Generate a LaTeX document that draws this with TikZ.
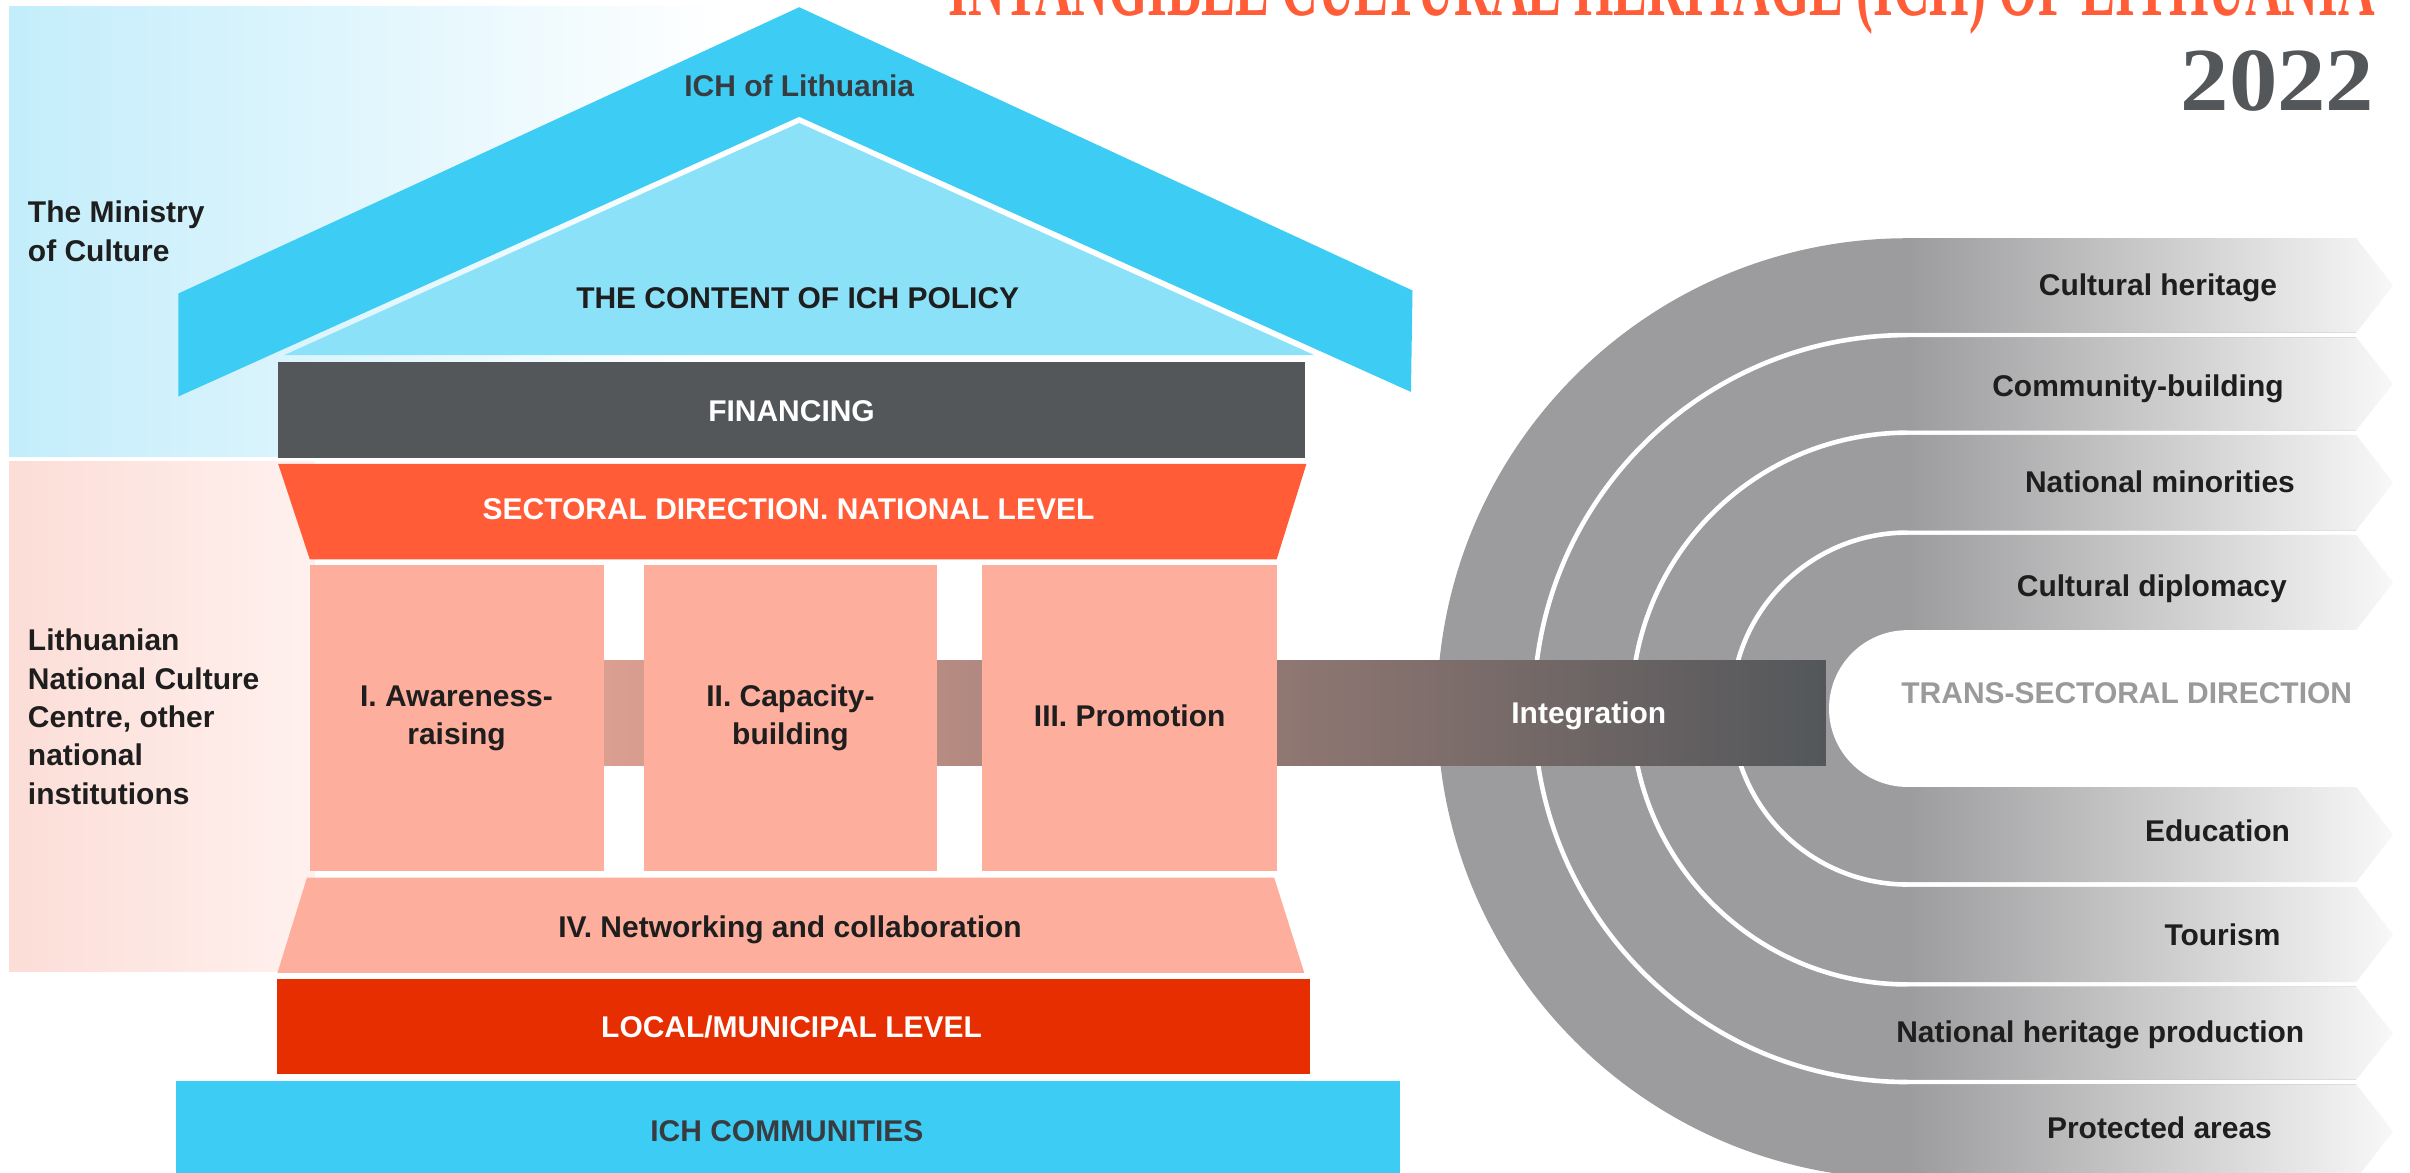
\documentclass[tikz,border=0pt]{standalone}
\usepackage{fontspec}
\setmainfont{Liberation Sans}
\newfontfamily\titlefont{Liberation Serif}
\usetikzlibrary{positioning}
\definecolor{roofblue}{HTML}{3DCDF4}
\definecolor{policyblue}{HTML}{8AE1F8}
\definecolor{panelblue}{HTML}{C3EDFB}
\definecolor{panelpink}{HTML}{FCDDD7}
\definecolor{pinkfade}{HTML}{FFF1EE}
\definecolor{slate}{HTML}{53575A}
\definecolor{sectoral}{HTML}{FF5C37}
\definecolor{salmon}{HTML}{FDAE9C}
\definecolor{barsalmon}{HTML}{DB9F91}
\definecolor{localred}{HTML}{E62E00}
\definecolor{ringgray}{HTML}{9C9C9E}
\definecolor{armlight}{HTML}{F8F8F8}
\definecolor{ink}{HTML}{1E1E1E}
\definecolor{inkgray}{HTML}{383C40}
\definecolor{transgray}{HTML}{9A9A9A}

\begin{document}
\begin{tikzpicture}
        [x=1pt, y=1pt,
         lbl/.style={inner sep=0, font=\fontsize{19.5}{25}\selectfont\bfseries, text=ink, align=center},
         wlbl/.style={lbl, text=white},
         arm/.style={left color=ringgray, right color=armlight},
         gap/.style={draw=white, line width=3pt}]
        \useasboundingbox (0,0) rectangle (1568,763);

        % side panels
        \shade[left color=panelblue, right color=white] (6,466) rectangle (470,758.5);
        \shade[left color=panelpink, right color=pinkfade] (6,131) rectangle (205,463);

        % roof and policy triangle
        \fill[roofblue] (520,758.3) -- (919,574) -- (918,508) -- (520,687) -- (116,505) -- (116,572) -- cycle;
        \fill[policyblue] (520,683) -- (855,532) -- (185,532) -- cycle;

        % house body
        \fill[slate] (181,465) rectangle (849,527.5);
        \fill[sectoral] (181,461.2) -- (850,461.2) -- (830.6,399) -- (201.6,399) -- cycle;

        % rings of the trans-sectoral direction
        \fill[ringgray] (1533,608) -- (1241,608) arc[start angle=90, end angle=270, radius=306] -- (1533,-4) -- cycle;
        \foreach \r in {114.5, 179.5, 243}
          \draw[gap] (1560,302+\r) -- (1241,302+\r) arc[start angle=90, end angle=270, radius=\r] -- (1560,302-\r);
        \foreach \ri/\ro in {51/113, 116/178, 181/241.5, 244.5/306}{
          \shade[arm] (1241,302+\ri) -- (1533,302+\ri) -- (1557,{302+(\ri+\ro)/2}) -- (1533,302+\ro) -- (1241,302+\ro) -- cycle;
          \shade[arm] (1241,302-\ro) -- (1533,302-\ro) -- (1557,{302-(\ri+\ro)/2}) -- (1533,302-\ri) -- (1241,302-\ri) -- cycle;
        }
        \fill[white] (1560,353) -- (1241,353) arc[start angle=90, end angle=270, radius=51] -- (1560,251) -- cycle;

        % integration bar and pillars
        \shade[left color=barsalmon, right color=slate] (393,265) rectangle (1188,333);
        \fill[salmon] (201.5,196) rectangle (393,395.4);
        \fill[salmon] (419,196) rectangle (609.6,395.4);
        \fill[salmon] (639,196) rectangle (830.6,395.4);
        \fill[salmon] (199.7,192) -- (829,192) -- (848.6,130) -- (180.5,130) -- cycle;
        \fill[localred] (180.5,64) rectangle (852,126.2);
        \fill[roofblue] (114.4,0) rectangle (911,60);

        % labels of the house
        \node [lbl, text=inkgray, anchor=base] (lith)   at (520,700)     {ICH of Lithuania};
        \node [lbl, anchor=base]               (policy) at (519,562.5)   {THE CONTENT OF ICH POLICY};
        \node [wlbl, anchor=base]              (fin)    at (515,489)     {FINANCING};
        \node [wlbl, anchor=base]              (sect)   at (513,424.7)   {SECTORAL DIRECTION. NATIONAL LEVEL};
        \node [lbl, anchor=base]               (aware)  at (297,278.5)   {I. Awareness-\\raising};
        \node [lbl, anchor=base]               (capac)  at (514.3,278.5) {II. Capacity-\\building};
        \node [lbl, anchor=base]               (promo)  at (735,290.3)   {III. Promotion};
        \node [wlbl, anchor=base]              (integ)  at (1033.7,292.5){Integration};
        \node [lbl, anchor=base]               (netw)   at (514,153)     {IV. Networking and collaboration};
        \node [wlbl, anchor=base]              (local)  at (515,88)      {LOCAL/MUNICIPAL LEVEL};
        \node [lbl, text=inkgray, anchor=base] (comm)   at (512,20.3)    {ICH COMMUNITIES};
        \node [lbl, anchor=base west, align=left] (ministry) at (18,593) {The Ministry\\of Culture};
        \node [lbl, anchor=base west, align=left] (lncc)     at (18,239.7) {Lithuanian\\National Culture\\Centre, other\\national\\institutions};

        % labels of the rings
        \node [lbl, anchor=base] (heritage) at (1404,571)     {Cultural heritage};
        \node [lbl, anchor=base] (commb)    at (1391,505)     {Community-building};
        \node [lbl, anchor=base] (minor)    at (1405.3,442.6) {National minorities};
        \node [lbl, anchor=base] (diplo)    at (1400,374.8)   {Cultural diplomacy};
        \node [lbl, text=transgray, anchor=base] (trans) at (1383.7,305.2) {TRANS-SECTORAL DIRECTION};
        \node [lbl, anchor=base] (educ)     at (1442.8,215.8) {Education};
        \node [lbl, anchor=base] (tour)     at (1446,147.8)   {Tourism};
        \node [lbl, anchor=base] (nhp)      at (1366.5,84.8)  {National heritage production};
        \node [lbl, anchor=base] (protect)  at (1405,22.4)    {Protected areas};

        % heading
        \node [inner sep=0, anchor=base west, text=sectoral] (title) at (617,752.8)
          {\resizebox{928pt}{\height}{\titlefont\bfseries\fontsize{58}{58}\selectfont INTANGIBLE CULTURAL HERITAGE (ICH) OF LITHUANIA}};
        \node [inner sep=0, anchor=base east, text=slate] (year) at (1545,691.4)
          {\resizebox{126pt}{\height}{\titlefont\bfseries\fontsize{58.6}{60}\selectfont 2022}};
\end{tikzpicture}
\end{document}
